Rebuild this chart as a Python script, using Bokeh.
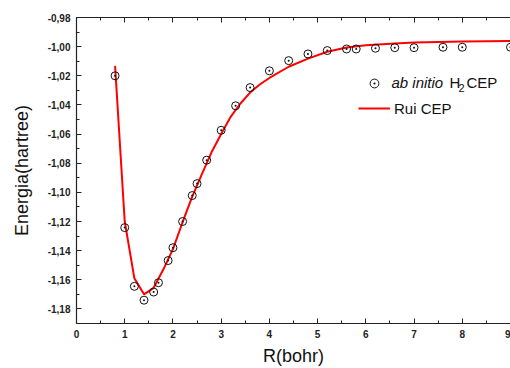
from bokeh.plotting import figure
from bokeh.models import (LinearAxis, SingleIntervalTicker, CustomJSTickFormatter,
                          Range1d, Legend, LegendItem, Label)
from bokeh.embed import file_html
from bokeh.resources import INLINE

# ab initio H2 CEP points
r_ab = [0.8, 1.0, 1.2, 1.4, 1.6, 1.7, 1.9, 2.0, 2.2, 2.4, 2.5, 2.7, 3.0, 3.3, 3.6,
        4.0, 4.4, 4.8, 5.2, 5.6, 5.8, 6.2, 6.6, 7.0, 7.6, 8.0, 9.0]
e_ab = [-1.0200, -1.1242, -1.1645, -1.1740, -1.1684, -1.1620, -1.1468, -1.1380,
        -1.1200, -1.1022, -1.0940, -1.0779, -1.0574, -1.0406, -1.0281, -1.0166,
        -1.0096, -1.0050, -1.0027, -1.0016, -1.0016, -1.0011, -1.0007, -1.0007,
        -1.0004, -1.0004, -1.0004]

# Rui CEP curve
r_rui = [0.8, 1.0, 1.2, 1.4, 1.6, 1.8, 2.0, 2.2, 2.4, 2.6, 2.8, 3.0, 3.2, 3.4, 3.6,
         3.8, 4.0, 4.4, 4.8, 5.2, 5.6, 6.0, 6.6, 7.0, 8.0, 9.0]
e_rui = [-1.0132, -1.1200, -1.1590, -1.1700, -1.1655, -1.1530, -1.1390, -1.1205,
         -1.1030, -1.0875, -1.0725, -1.0600, -1.0480, -1.0390, -1.0315, -1.0260,
         -1.0215, -1.0138, -1.0082, -1.0035, -1.0006, -0.9990, -0.9978, -0.9972,
         -0.9965, -0.9962]

x_label = "R(bohr)"
y_label = "Energia(hartree)"
legend_ab = ["ab initio", "H", "2", "CEP"]
legend_rui = "Rui CEP"

FONT = "Liberation Sans"

p = figure(width=510, height=368, output_backend="svg", toolbar_location=None,
           x_range=Range1d(0, 9), y_range=Range1d(-1.19, -0.98),
           min_border_left=76, min_border_right=0, min_border_top=17,
           min_border_bottom=43, x_axis_location=None, y_axis_location=None)
p.outline_line_color = None
p.xgrid.visible = False
p.ygrid.visible = False
p.background_fill_color = "white"
p.border_fill_color = "white"

xt = SingleIntervalTicker(interval=1, num_minor_ticks=2)
yt = SingleIntervalTicker(interval=0.02, num_minor_ticks=2)
yfmt = CustomJSTickFormatter(code="return tick.toFixed(2).replace('.', ',');")


def style(ax):
    ax.axis_line_color = "#222222"
    ax.axis_line_width = 1.2
    ax.major_tick_in = 5
    ax.major_tick_out = 0
    ax.minor_tick_in = 3
    ax.minor_tick_out = 0
    ax.major_tick_line_color = "#222222"
    ax.minor_tick_line_color = "#222222"
    ax.major_label_text_font = FONT
    ax.major_label_text_font_style = "bold"
    ax.major_label_text_font_size = "10px"
    ax.major_label_text_color = "#222222"
    ax.axis_label_text_font = FONT
    ax.axis_label_text_font_style = "normal"
    ax.axis_label_text_font_size = "18px"
    ax.axis_label_text_color = "#111111"


xb = LinearAxis(ticker=xt, axis_label=x_label)
style(xb)
xb.major_label_standoff = 6
xb.axis_label_standoff = 5
p.add_layout(xb, "below")

yl = LinearAxis(ticker=yt, formatter=yfmt, axis_label=y_label)
style(yl)
yl.major_label_standoff = 6
yl.axis_label_standoff = 13
p.add_layout(yl, "left")

xtop = LinearAxis(ticker=xt)
style(xtop)
xtop.major_label_text_font_size = "1px"
xtop.major_label_text_color = None
xtop.major_label_standoff = 0
p.add_layout(xtop, "above")

line_r = p.line(r_rui, e_rui, line_color="#ff0000", line_width=2)
circ_r = p.scatter(r_ab, e_ab, marker="circle_dot", size=8, fill_color=None,
                   line_color="#111111", line_width=1)

legend = Legend(items=[LegendItem(label=" ", renderers=[circ_r]),
                       LegendItem(label=legend_rui, renderers=[line_r])],
                location=(282, 204), padding=0, margin=0, spacing=3,
                glyph_width=32, glyph_height=22, label_height=22,
                label_standoff=4, border_line_color=None,
                background_fill_alpha=0, label_text_font=FONT,
                label_text_font_size="15px", label_text_color="#111111")
p.add_layout(legend)

ly = 241
for txt, sx, dy, fs, st in [(legend_ab[0], 315, 0, "15px", "italic"),
                            (legend_ab[1], 373, 0, "15px", "normal"),
                            (legend_ab[2], 382, -5, "11px", "normal"),
                            (legend_ab[3], 390, 0, "15px", "normal")]:
    p.add_layout(Label(x=sx, y=ly + dy, x_units="screen", y_units="screen",
                       text=txt, text_font=FONT, text_font_size=fs,
                       text_font_style=st, text_baseline="middle",
                       text_align="left", text_color="#111111"))

open("out.html", "w").write(file_html(p, INLINE))
